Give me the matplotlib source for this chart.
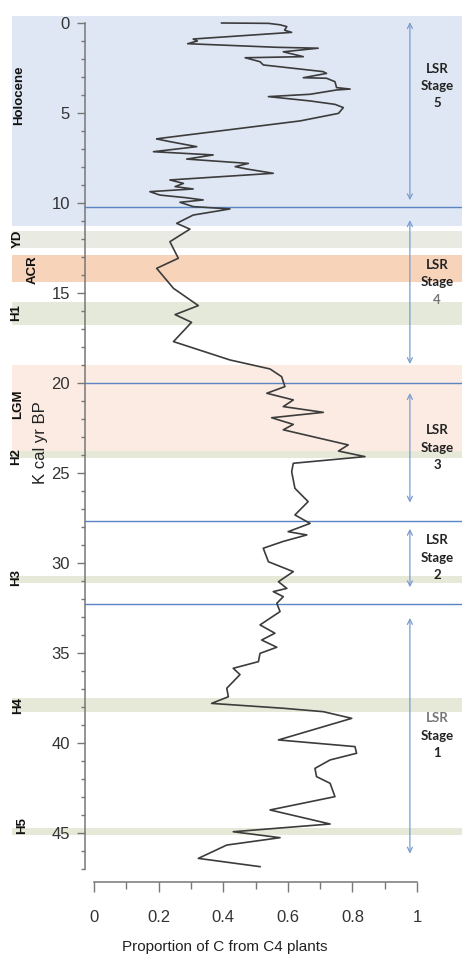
import numpy as np
import matplotlib
matplotlib.use("Agg")
import matplotlib.pyplot as plt
from matplotlib.ticker import MultipleLocator

# proportion of C from C4 plants vs age (k cal yr BP)
c4 = [0.395, 0.54, 0.576, 0.597, 0.59, 0.612, 0.307, 0.32, 0.29, 0.566, 0.694, 0.586,
      0.648, 0.468, 0.514, 0.524, 0.709, 0.72, 0.648, 0.72, 0.746, 0.751, 0.793, 0.751,
      0.669, 0.54, 0.669, 0.746, 0.772, 0.757, 0.638, 0.204, 0.194, 0.235, 0.318, 0.184,
      0.369, 0.287, 0.478, 0.437, 0.473, 0.555, 0.235, 0.277, 0.251, 0.307, 0.173, 0.204,
      0.282, 0.338, 0.266, 0.307, 0.421, 0.307, 0.256, 0.297, 0.235, 0.261, 0.194, 0.246,
      0.323, 0.251, 0.302, 0.246, 0.421, 0.545, 0.581, 0.591, 0.535, 0.617, 0.586, 0.71,
      0.55, 0.617, 0.586, 0.787, 0.757, 0.839, 0.617, 0.612, 0.622, 0.663, 0.622, 0.669,
      0.601, 0.659, 0.586, 0.524, 0.54, 0.617, 0.571, 0.597, 0.555, 0.586, 0.566, 0.576,
      0.514, 0.56, 0.519, 0.566, 0.514, 0.509, 0.431, 0.452, 0.411, 0.416, 0.364, 0.586,
      0.71, 0.798, 0.571, 0.808, 0.813, 0.731, 0.684, 0.689, 0.731, 0.746, 0.545, 0.731,
      0.431, 0.576, 0.411, 0.323, 0.514]
age = [0.0, 0.02, 0.1, 0.2, 0.4, 0.52, 0.89, 1.0, 1.15, 1.35, 1.4, 1.6,
       1.87, 1.93, 2.15, 2.33, 2.7, 2.8, 3.04, 3.07, 3.26, 3.59, 3.67, 3.72,
       3.96, 4.09, 4.33, 4.52, 4.7, 5.02, 5.44, 6.41, 6.44, 6.59, 6.87, 7.15,
       7.33, 7.56, 7.8, 7.98, 8.11, 8.35, 8.72, 8.91, 9.09, 9.22, 9.37, 9.56,
       9.7, 9.83, 9.96, 10.2, 10.33, 10.67, 11.13, 11.45, 12.15, 13.07, 13.63, 14.74,
       15.7, 16.2, 16.63, 17.7, 18.72, 19.22, 19.65, 20.2, 20.57, 20.94, 21.31, 21.63,
       21.93, 22.3, 22.6, 23.44, 23.78, 24.09, 24.46, 24.93, 25.85, 26.59, 27.33, 27.8,
       28.26, 28.44, 28.8, 29.18, 29.93, 30.48, 31.04, 31.41, 31.59, 31.87, 32.24, 32.7,
       33.44, 33.9, 34.28, 34.68, 35.02, 35.48, 35.85, 36.2, 36.96, 37.43, 37.8, 38.07,
       38.26, 38.63, 39.83, 40.2, 40.57, 40.94, 41.41, 41.87, 42.24, 42.98, 43.72, 44.5,
       44.93, 45.26, 45.67, 46.41, 46.87]

# climate events: (name, start, end, colour, label x)
events = [("Holocene", -0.4, 11.25, "#e0e7f4", -0.232),
          ("YD", 11.55, 12.5, "#e9ebe2", -0.235),
          ("ACR", 12.9, 14.4, "#f7d3ba", -0.19),
          ("H1", 15.5, 16.8, "#e4e9d9", -0.24),
          ("LGM", 19.0, 23.8, "#fcebe2", -0.235),
          ("H2", 23.8, 24.15, "#e6e9d8", -0.24),
          ("H3", 30.7, 31.1, "#e6e9d8", -0.24),
          ("H4", 37.5, 38.3, "#e6e9d8", -0.235),
          ("H5", 44.7, 45.1, "#e6e9d8", -0.222)]
event_label_y = [4.0, 12.0, 13.7, 16.1, 21.2, 24.1, 30.8, 37.9, 44.6]

# LSR stage boundaries and arrows
boundaries = [10.2, 20.0, 27.65, 32.25]
stage_names = ["5", "4", "3", "2", "1"]
stage_arrows = [(-0.2, 10.0), (10.8, 19.1), (20.4, 26.8), (27.95, 31.5), (32.9, 46.3)]
stage_text_y = [3.5, 14.4, 23.6, 29.7, 39.6]

fig = plt.figure(figsize=(4.62, 9.64), dpi=100)
ax = fig.add_axes([94 / 462, 1 - 869 / 964, 323 / 462, 855 / 964])
ax.set_xlim(0, 1)
ax.set_ylim(47, -0.5)

for (name, y0, y1, col, lx), ly in zip(events, event_label_y):
    ax.axhspan(y0, y1, xmin=-0.255, xmax=1.15, color=col, lw=0, clip_on=False, zorder=0)
    ax.text(lx, ly, name, rotation=90, ha="center", va="center", fontsize=9.5,
            fontweight="bold", family="Liberation Sans", color="#111111")

for b in boundaries:
    ax.axhline(b, xmin=-0.028, xmax=1.135, color="#5b84c4", lw=1.0, clip_on=False, zorder=1)

for (a0, a1), name, ty in zip(stage_arrows, stage_names, stage_text_y):
    ax.annotate("", xy=(0.978, a0), xytext=(0.978, a1),
                arrowprops=dict(arrowstyle="<->", color="#7a9ccf", lw=0.9,
                                mutation_scale=9), zorder=2)
    for k, line in enumerate(["LSR", "Stage", name]):
        col = "#222222"
        if (name == "4" and k == 2) or (name == "1" and k == 0):
            col = "#777777"
        ax.text(1.062, ty + (k - 1) * 0.97, line, ha="center", va="center", fontsize=9.5,
                fontweight="bold", family="Lato", color=col)

ax.plot(c4, age, color="#3c3c3c", lw=1.2, zorder=3)

for s in ["top", "right"]:
    ax.spines[s].set_visible(False)
ax.spines["left"].set_position(("outward", 6.5))
ax.spines["bottom"].set_position(("outward", 9.4))
ax.spines["left"].set_bounds(0, 47)
ax.spines["bottom"].set_bounds(0, 1)
for s in ["left", "bottom"]:
    ax.spines[s].set_color("#777777")
    ax.spines[s].set_linewidth(1.1)

ax.yaxis.set_minor_locator(MultipleLocator(1))
ax.xaxis.set_minor_locator(MultipleLocator(0.1))
ax.set_xticks([0, 0.2, 0.4, 0.6, 0.8, 1.0])
ax.set_xticklabels(["0", "0.2", "0.4", "0.6", "0.8", "1"])
ax.set_yticks(np.arange(0, 50, 5))
ax.tick_params(axis="y", which="major", length=5.8, width=1.0, color="#777777",
               labelsize=12, labelcolor="#333333", pad=5)
ax.tick_params(axis="y", which="minor", length=3, width=1.0, color="#777777")
ax.tick_params(axis="x", which="major", length=7, width=1.0, color="#777777",
               labelsize=12, labelcolor="#333333", pad=13)
ax.tick_params(axis="x", which="minor", length=5, width=1.0, color="#777777")
for lab in ax.get_xticklabels() + ax.get_yticklabels():
    lab.set_family("Liberation Sans")

ax.text(-0.167, 23.3, "K cal yr BP", rotation=90, ha="center", va="center",
        fontsize=12, family="Liberation Sans", color="#222222")
fig.text(225 / 462, 1 - 947 / 964, "Proportion of C from C4 plants", ha="center",
         va="center", fontsize=11, family="Liberation Sans", color="#222222")

fig.savefig("out.png", dpi=100)
